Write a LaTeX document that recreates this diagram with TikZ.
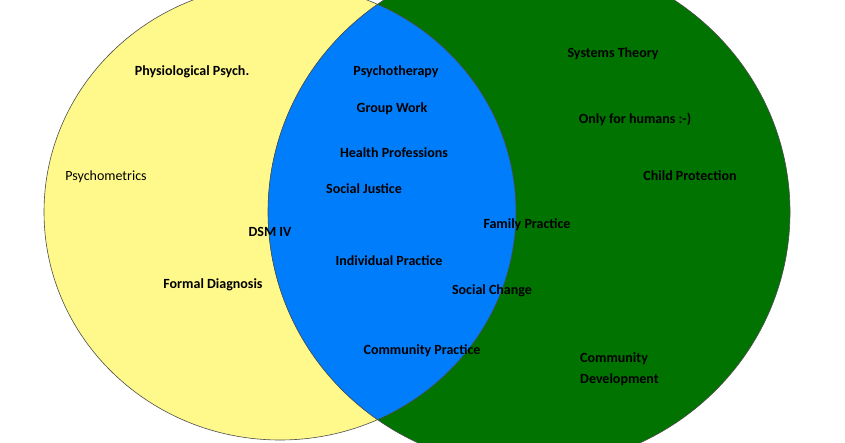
\documentclass[tikz,border=0pt]{standalone}
\usepackage{fontspec}
\setmainfont{Carlito}
\begin{document}
\begin{tikzpicture}[x=1pt,y=-1pt,
  lab/.style={font=\bfseries\fontsize{14}{15}\selectfont,text=black,inner sep=0pt}]
\useasboundingbox (0,0) rectangle (845,443);
\begin{scope}
\clip (0,0) rectangle (845,443);
\fill[yellow!45] (280,212) ellipse (236 and 228);
\fill[green!45!black] (529,212) ellipse (261 and 255);
\begin{scope}
\clip (280,212) ellipse (236 and 228);
\fill[fill={rgb,255:red,0;green,125;blue,250}] (529,212) ellipse (261 and 255);
\end{scope}
\draw[gray!60!black,line width=0.6pt] (280,212) ellipse (236 and 228);
\draw[gray!60!black,line width=0.6pt] (529,212) ellipse (261 and 255);
\end{scope}
\node[lab] (a) at (192,72) {Physiological Psych.};
\node[lab,font=\fontsize{14}{15}\selectfont] (b) at (106,177) {Psychometrics};
\node[lab] (c) at (396,72) {Psychotherapy};
\node[lab] (d) at (392,109) {Group Work};
\node[lab] (e) at (394,153) {Health Professions};
\node[lab] (f) at (364,189) {Social Justice};
\node[lab] (g) at (270,232) {DSM IV};
\node[lab] (h) at (527,225) {Family Practice};
\node[lab] (i) at (389,261) {Individual Practice};
\node[lab] (j) at (213,285) {Formal Diagnosis};
\node[lab] (k) at (492,291) {Social Change};
\node[lab] (l) at (422,351) {Community Practice};
\node[lab] (m) at (613,54) {Systems Theory};
\node[lab] (n) at (635,119) {Only for humans :-)};
\node[lab] (o) at (690,176) {Child Protection};
\node[lab,anchor=west,align=left,font=\bfseries\fontsize{14}{21}\selectfont] (p) at (580,369) {Community\\Development};
\end{tikzpicture}
\end{document}
